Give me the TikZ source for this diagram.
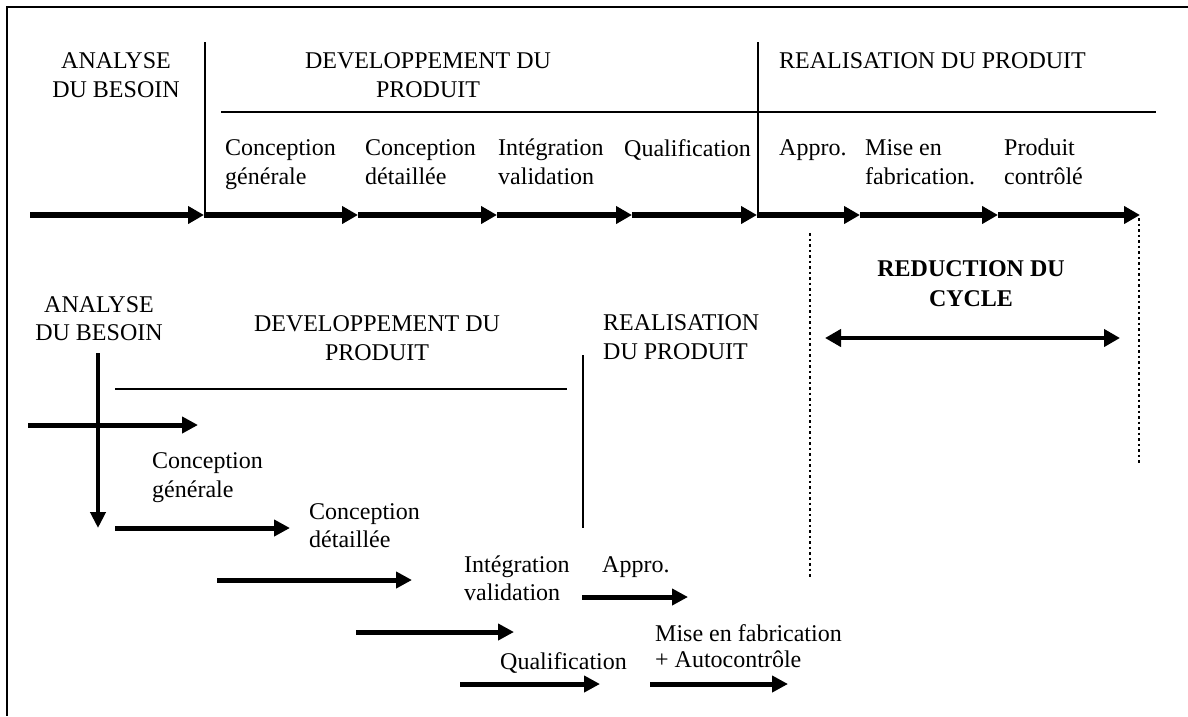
\documentclass[tikz,border=0pt]{standalone}
\usepackage{fontspec}
\setmainfont{Liberation Serif}
\usetikzlibrary{arrows.meta}
\begin{document}
\begin{tikzpicture}[x=1pt,y=-1pt,
  txt/.style={inner sep=0pt,font=\fontsize{24}{29}\selectfont,anchor=north west,align=left},
  ctxt/.style={txt,anchor=north,align=center},
  rule/.style={line width=2pt},
  framel/.style={line width=2.5pt},
  bigarrow/.style={line width=5.5pt,-{Triangle[length=16pt,width=17pt]}},
  midarrow/.style={line width=5pt,-{Triangle[length=16pt,width=16pt]}},
  dblarrow/.style={line width=4.5pt,{Triangle[length=16pt,width=17pt]}-{Triangle[length=16pt,width=17pt]}},
  dots/.style={line width=2.5pt,dash pattern=on 2.5pt off 3pt}
]
\useasboundingbox (0,0) rectangle (1188,716);
% frame
\coordinate (fr0) at (7,7);
\coordinate (fr1) at (1188,7);
\coordinate (fr2) at (7,716);
\draw[framel] (fr1) -- (fr0) -- (fr2);

% ---------- top section ----------
\coordinate (d1t) at (205,42);  \coordinate (d1b) at (205,215);
\coordinate (d2t) at (758,42);  \coordinate (d2b) at (758,215);
\coordinate (h1a) at (221,112); \coordinate (h1b) at (1156,112);
\draw[rule] (d1t) -- (d1b);
\draw[rule] (d2t) -- (d2b);
\draw[rule] (h1a) -- (h1b);

\coordinate (m0) at (30,215);
\coordinate (m1) at (204,215);
\coordinate (m2) at (358,215);
\coordinate (m3) at (497,215);
\coordinate (m4) at (632,215);
\coordinate (m5) at (757,215);
\coordinate (m6) at (860,215);
\coordinate (m7) at (998,215);
\coordinate (m8) at (1140,215);
\draw[bigarrow] (m0) -- (m1);
\draw[bigarrow] (m1) -- (m2);
\draw[bigarrow] (m2) -- (m3);
\draw[bigarrow] (m3) -- (m4);
\draw[bigarrow] (m4) -- (m5);
\draw[bigarrow] (m5) -- (m6);
\draw[bigarrow] (m6) -- (m7);
\draw[bigarrow] (m7) -- (m8);

\node[ctxt] (tA) at (116,52) {ANALYSE\\DU BESOIN};
\node[ctxt] (tD) at (428,52) {DEVELOPPEMENT DU\\PRODUIT};
\node[txt]  (tR) at (779,52) {REALISATION DU PRODUIT};
\node[txt] (t1) at (225,139) {Conception\\générale};
\node[txt] (t2) at (365,139) {Conception\\détaillée};
\node[txt] (t3) at (498,139) {Intégration\\validation};
\node[txt] (t4) at (624,139) {Qualification};
\node[txt] (t5) at (779,139) {Appro.};
\node[txt] (t6) at (865,139) {Mise en\\fabrication.};
\node[txt] (t7) at (1004,139) {Produit\\contrôlé};

% ---------- bottom section ----------
\node[ctxt,font=\fontsize{24}{28}\selectfont] (bA) at (99,296) {ANALYSE\\DU BESOIN};
\node[ctxt] (bD) at (377,315) {DEVELOPPEMENT DU\\PRODUIT};
\node[txt]  (bR) at (603,314) {REALISATION\\DU PRODUIT};

\coordinate (va) at (98,353);  \coordinate (vb) at (98,528);
\draw[line width=4.5pt,-{Triangle[length=16pt,width=15pt]}] (va) -- (vb);
\coordinate (h2a) at (115,389); \coordinate (h2b) at (567,389);
\draw[rule] (h2a) -- (h2b);
\coordinate (v2a) at (583,355); \coordinate (v2b) at (583,528);
\draw[rule] (v2a) -- (v2b);

\coordinate (a1s) at (28,425);  \coordinate (a1e) at (198,425);
\draw[midarrow] (a1s) -- (a1e);
\node[txt] (b1) at (152,452) {Conception\\générale};
\coordinate (a2s) at (115,528); \coordinate (a2e) at (290,528);
\draw[midarrow] (a2s) -- (a2e);
\node[txt,font=\fontsize{24}{28}\selectfont] (b2) at (309,503) {Conception\\détaillée};
\coordinate (a3s) at (217,580); \coordinate (a3e) at (412,580);
\draw[midarrow] (a3s) -- (a3e);
\node[txt,font=\fontsize{24}{28}\selectfont] (b3) at (464,556) {Intégration\\validation};
\node[txt] (b5) at (602,556) {Appro.};
\coordinate (a5s) at (582,597); \coordinate (a5e) at (688,597);
\draw[midarrow] (a5s) -- (a5e);
\coordinate (a4s) at (356,632); \coordinate (a4e) at (514,632);
\draw[midarrow] (a4s) -- (a4e);
\node[txt,font=\fontsize{24}{26}\selectfont] (b6) at (655,624) {Mise en fabrication\\+ Autocontrôle};
\node[txt] (b4) at (500,652) {Qualification};
\coordinate (a6s) at (460,684); \coordinate (a6e) at (600,684);
\draw[midarrow] (a6s) -- (a6e);
\coordinate (a7s) at (650,684); \coordinate (a7e) at (788,684);
\draw[midarrow] (a7s) -- (a7e);

% ---------- reduction ----------
\coordinate (dl1) at (810,233);  \coordinate (dl2) at (810,578);
\coordinate (dr1) at (1139,218); \coordinate (dr2) at (1139,463);
\draw[dots] (dl1) -- (dl2);
\draw[dots] (dr1) -- (dr2);
\node[ctxt,font=\bfseries\fontsize{24}{30}\selectfont] (red) at (971,260) {REDUCTION DU\\CYCLE};
\coordinate (ra) at (825,338); \coordinate (rb) at (1120,338);
\draw[dblarrow] (ra) -- (rb);
\end{tikzpicture}
\end{document}
